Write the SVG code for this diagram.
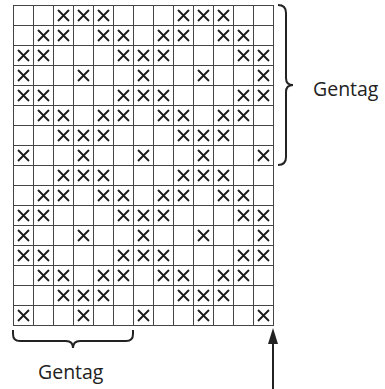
<svg xmlns="http://www.w3.org/2000/svg" xmlns:xlink="http://www.w3.org/1999/xlink" width="385" height="389" viewBox="0 0 385 389">
<style>
.grid{stroke:#444;stroke-width:1;fill:none}
.xm{stroke:#1a1a1a;stroke-width:1.8;fill:none}
.br{stroke:#222;stroke-width:2;fill:none}
.lbl{font-family:"Open Sans","Liberation Sans",sans-serif;font-size:19.5px;fill:#222}
</style>
<defs>
<path id="x" class="xm" d="M-5.5,-5.5L5.5,5.5M5.5,-5.5L-5.5,5.5"/>
<g id="block">
<use href="#x" x="63" y="15"/><use href="#x" x="83" y="15"/><use href="#x" x="103" y="15"/><use href="#x" x="183" y="15"/><use href="#x" x="203" y="15"/><use href="#x" x="223" y="15"/>
<use href="#x" x="43" y="35"/><use href="#x" x="63" y="35"/><use href="#x" x="103" y="35"/><use href="#x" x="123" y="35"/><use href="#x" x="163" y="35"/><use href="#x" x="183" y="35"/><use href="#x" x="223" y="35"/><use href="#x" x="243" y="35"/>
<use href="#x" x="23" y="55"/><use href="#x" x="43" y="55"/><use href="#x" x="123" y="55"/><use href="#x" x="143" y="55"/><use href="#x" x="163" y="55"/><use href="#x" x="243" y="55"/><use href="#x" x="263" y="55"/>
<use href="#x" x="23" y="75"/><use href="#x" x="83" y="75"/><use href="#x" x="143" y="75"/><use href="#x" x="203" y="75"/><use href="#x" x="263" y="75"/>
<use href="#x" x="23" y="95"/><use href="#x" x="43" y="95"/><use href="#x" x="123" y="95"/><use href="#x" x="143" y="95"/><use href="#x" x="163" y="95"/><use href="#x" x="243" y="95"/><use href="#x" x="263" y="95"/>
<use href="#x" x="43" y="115"/><use href="#x" x="63" y="115"/><use href="#x" x="103" y="115"/><use href="#x" x="123" y="115"/><use href="#x" x="163" y="115"/><use href="#x" x="183" y="115"/><use href="#x" x="223" y="115"/><use href="#x" x="243" y="115"/>
<use href="#x" x="63" y="135"/><use href="#x" x="83" y="135"/><use href="#x" x="103" y="135"/><use href="#x" x="183" y="135"/><use href="#x" x="203" y="135"/><use href="#x" x="223" y="135"/>
<use href="#x" x="23" y="155"/><use href="#x" x="83" y="155"/><use href="#x" x="143" y="155"/><use href="#x" x="203" y="155"/><use href="#x" x="263" y="155"/>
</g>
</defs>
<g id="grid" class="grid">
<path d="M13.5,5V325M33.5,5V325M53.5,5V325M73.5,5V325M93.5,5V325M113.5,5V325M133.5,5V325M153.5,5V325M173.5,5V325M193.5,5V325M213.5,5V325M233.5,5V325M253.5,5V325M273.5,5V325"/>
<path d="M13,5.5H274M13,25.5H274M13,45.5H274M13,65.5H274M13,85.5H274M13,105.5H274M13,125.5H274M13,145.5H274M13,165.5H274M13,185.5H274M13,205.5H274M13,225.5H274M13,245.5H274M13,265.5H274M13,285.5H274M13,305.5H274M13,325.5H274"/>
</g>
<g id="marks" transform="translate(0.5,0.5)">
<use href="#block"/>
<use href="#block" y="160"/>
</g>
<g id="brace-right">
<path class="br" d="M278,5 Q286,5 286,13 L286,78 Q286,85 293,85 Q286,85 286,92 L286,157 Q286,165 278,165"/>
<text class="lbl" x="313" y="96">Gentag</text>
</g>
<g id="brace-bottom">
<path class="br" d="M13,330 L13,334 Q13,341 20,341 L66,341 Q73,341 73,348 Q73,341 80,341 L126,341 Q133,341 133,334 L133,330"/>
<text class="lbl" x="38" y="379">Gentag</text>
</g>
<g id="arrow">
<path d="M273,389 V340" stroke="#222" stroke-width="2"/>
<path d="M273,328 L278,344 L268,344 Z" fill="#222"/>
</g>
</svg>
